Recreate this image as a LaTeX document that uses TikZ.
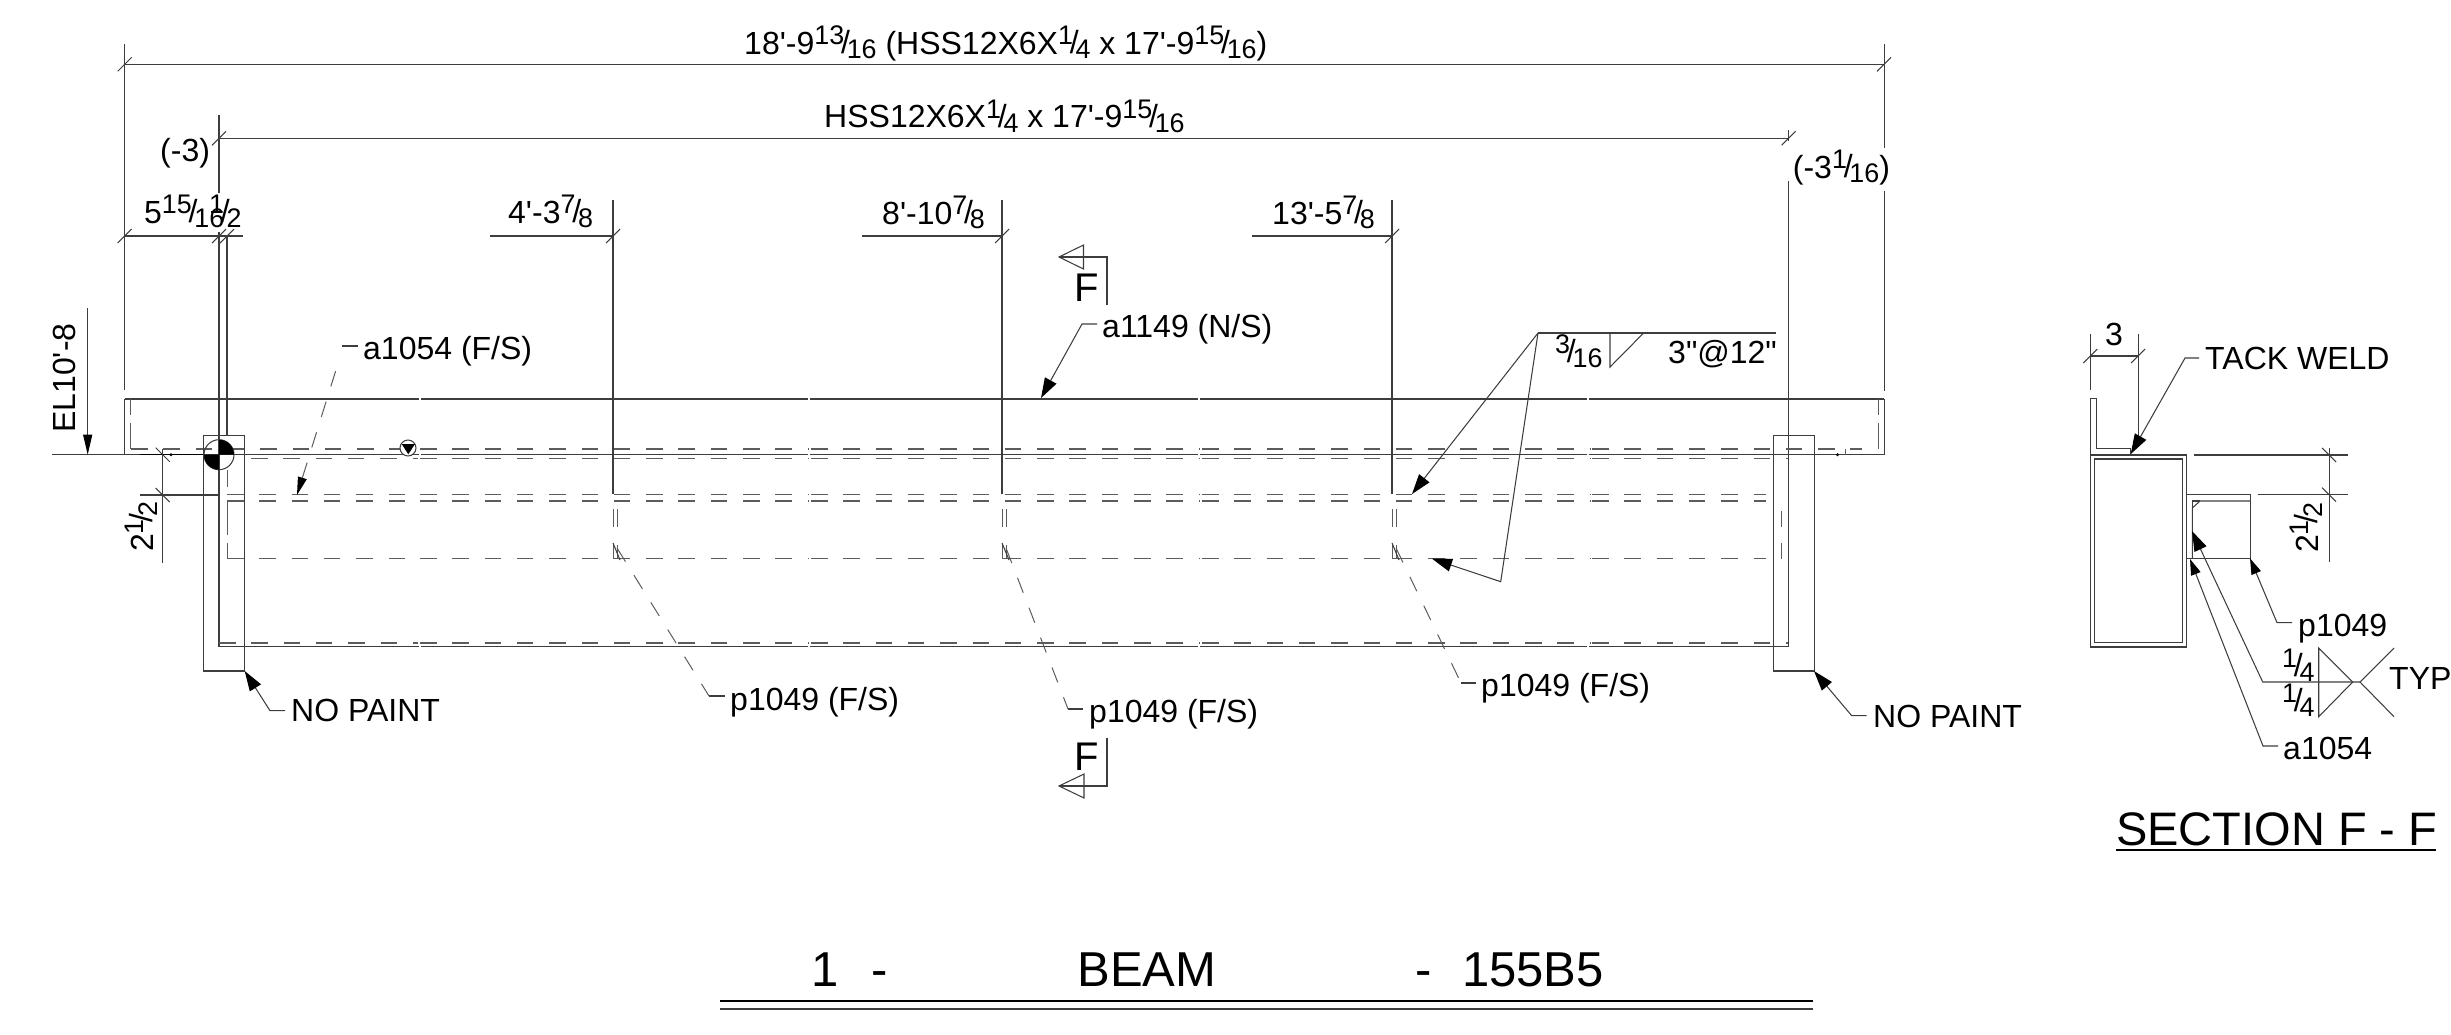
\documentclass[tikz,border=0pt]{standalone}
\usepackage{fontspec}
\usepackage{graphicx}
\setmainfont[Ligatures=TeXOff]{Liberation Sans}
\usetikzlibrary{arrows.meta}
\definecolor{ln}{gray}{0.24}
\definecolor{dl}{gray}{0.36}
\newcommand\frc[2]{\raisebox{.30em}{\scalebox{.84}{#1}}\kern-.10em\raisebox{.02em}{/}\kern-.10em\raisebox{-.14em}{\scalebox{.84}{#2}}}
\tikzset{
  x=1pt,y=-1pt,
  ln/.style={draw=ln,line width=1.05pt},
  dsh/.style={draw=dl,line width=1.2pt,dash pattern=on 16.5pt off 15.8pt},
  thin dash/.style={draw=dl,line width=1pt},
  lead/.style={draw=ln,line width=1.05pt,{Triangle[length=20pt,width=13pt,black]}-},
  leadsmall/.style={draw=ln,line width=1.05pt,{Triangle[length=16pt,width=10pt,black]}-},
  ldash/.style={draw=dl,line width=1pt,dash pattern=on 16pt off 16pt},
  txt/.style={inner sep=0pt,anchor=base west,text=black,font=\fontsize{32}{36}\selectfont},
  big/.style={txt,font=\fontsize{40}{44}\selectfont},
  sect/.style={txt,font=\fontsize{47}{52}\selectfont},
  ttl/.style={inner sep=0pt,anchor=base,text=black,font=\fontsize{49}{54}\selectfont},
  tickf/.style={insert path={+(-7,7) -- +(7,-7)}},
  tickb/.style={insert path={+(-7,-7) -- +(7,7)}},
}
\begin{document}
\begin{tikzpicture}
\useasboundingbox (0,0) rectangle (2451,1034);
% ---- dimension lines
\draw[ln] (124.7,44) -- (124.7,390);
\draw[ln] (1884,44) -- (1884,148) (1884,191) -- (1884,391);
\draw[ln] (219,115) -- (219,193) (219,232) -- (219,646.7);
\draw[ln] (227,236) -- (227,435);
\draw[ln] (1788.6,130) -- (1788.6,141) (1788.6,181) -- (1788.6,646.7);
\draw[ln] (124.7,64.3) -- (1884,64.3);
\draw[ln] (219,138.3) -- (1788.6,138.3);
\draw[ln] (124.7,236) -- (242.7,236);
\draw[ln] (490,236) -- (613,236);
\draw[ln] (862,236) -- (1002,236);
\draw[ln] (1252,236) -- (1392,236);
\foreach \q in {124.7,1884} \draw[ln] (\q,64.3) [tickf];
\foreach \q in {219,1788.6} \draw[ln] (\q,138.3) [tickf];
\foreach \q in {124.7,219,227,613,1002,1392} \draw[ln] (\q,236) [tickf];
\draw[ln] (613,200) -- (613,494);
\draw[ln] (1002,200) -- (1002,494);
\draw[ln] (1392,200) -- (1392,494);
% ---- beam outline
\draw[ln] (124.7,454.7) -- (124.7,399);
\draw[ln] (1884,454.7) -- (1884,399);
\foreach \a/\b in {124.7/419,421/807.5,809.5/1198,1200/1586.5,1588.5/1884}{
  \draw[ln] (\a,399) -- (\b,399);
  \draw[ln] (\a,454.7) -- (\b,454.7);
}
\draw[ln] (52,454.7) -- (124.7,454.7);
\draw[draw=black,line width=1.5pt] (140,454.7) -- (204,454.7);
\foreach \a/\b in {219/419,421/807.5,809.5/1198,1200/1586.5,1588.5/1788.6}
  \draw[ln] (\a,646.7) -- (\b,646.7);
% ---- hidden lines
\foreach \a/\b in {131/418,420/808,811/1199,1202/1590,1592/1862}
  \draw[dsh] (\a,449) -- (\b,449);
\foreach \a/\b in {251/418,420/808,811/1199,1202/1590,1592/1788}
  \draw[dsh] (\a,458.3) -- (\b,458.3);
\foreach \a/\b in {227/418,420/808,811/1199,1202/1590,1592/1766}{
  \draw[dsh] (\a,494.3) -- (\b,494.3);
  \draw[dsh] (\a,501) -- (\b,501);
  \draw[dsh] (\a,558.5) -- (\b,558.5);
}
\foreach \a/\b in {219/418,420/808,811/1199,1202/1590,1592/1788}
  \draw[dsh] (\a,643) -- (\b,643);
\draw[thin dash] (130.7,399) -- (130.7,415) (130.7,423) -- (130.7,449);
\draw[thin dash] (1878,399) -- (1878,415) (1878,423) -- (1878,449);
\draw[thin dash] (227,470) -- (227,487) (227,502) -- (227,535) (227,543) -- (227,558.5);
\draw[thin dash] (1781.4,511) -- (1781.4,527) (1781.4,543) -- (1781.4,558.5);
\draw[thin dash] (1845,449) -- (1845,454.7);
\fill[black] (171,454.7) circle [radius=1.6pt];
\fill[black] (1837.5,454.7) circle [radius=1.6pt];
% ---- stiffeners seen through the beam
\foreach \q in {613,1002,1392}{
  \draw[thin dash] (\q,509) -- (\q,527) (\q+4.2,509) -- (\q+4.2,527);
  \draw[thin dash] (\q,545) -- (\q,558) -- (\q+4.2,558) -- (\q+4.2,545);
  \draw[ln] (\q,543) -- (\q+7,560);
}
% ---- end plates
\draw[ln] (203.7,435.3) rectangle (244.7,671);
\draw[ln] (1773,435.3) rectangle (1814,671);
\draw[ln] (140,495) -- (219,495);
% ---- 2 1/2 dimension at left
\draw[ln] (162.7,449) -- (162.7,562.7);
\draw[ln] (162.7,454.7) [tickb];
\draw[ln] (162.7,495) [tickb];
% ---- elevation
\coordinate (elstart) at (87.7,308);
\coordinate (eltip) at (87.7,454.7);
\draw[ln,-{Triangle[length=20pt,width=9pt,black]}] (elstart) -- (eltip);
% ---- markers
\draw[ln] (219,454.7) circle [radius=15pt];
\fill[black] (219,454.7) -- +(15pt,0pt) arc[start angle=0,end angle=90,radius=15pt] -- cycle;
\fill[black] (219,454.7) -- +(-15pt,0pt) arc[start angle=180,end angle=270,radius=15pt] -- cycle;
\fill[white] (408,448) circle [radius=8pt];
\draw[ln] (408,448) circle [radius=8pt];
\fill[black] (401.7,444) -- (415,444) -- (408.3,454.3) -- cycle;
% ---- section arrows
\draw[ln] (1059,257) -- (1107,257) -- (1107,305);
\draw[ln] (1059,257) -- (1083.5,245) -- (1083.5,269) -- cycle;
\draw[ln] (1107,738) -- (1107,786) -- (1059,786);
\draw[ln] (1059,786) -- (1084,774) -- (1084,798) -- cycle;
% ---- weld symbol on beam
\coordinate (wroot) at (1538,333);
\coordinate (wend) at (1776,333);
\coordinate (wtip1) at (1412,494);
\coordinate (wcorner) at (1500.7,581.7);
\coordinate (wtip2) at (1432,558.7);
\draw[ln] (wroot) -- (wend);
\draw[lead] (wtip1) -- (wroot);
\draw[lead] (wtip2) -- (wcorner) -- (wroot);
\draw[ln] (1610,333) -- (1610,367) -- (1643.6,333);
% ---- labels of plan
\node[txt] (t1) at (744,54) {18'-9\frc{13}{16} (HSS12X6X\frc{1}{4} x 17'-9\frc{15}{16})};
\node[txt] (t2) at (824,127.7) {HSS12X6X\frc{1}{4} x 17'-9\frc{15}{16}};
\node[txt] (t3) at (160,161.7) {(-3)};
\node[txt] (t4) at (1792.7,178) {(-3\frc{1}{16})};
\node[txt] (t5) at (144,223.3) {5\frc{15}{16}};
\node[txt] (t6) at (209,223.3) {\frc{1}{2}};
\node[txt] (t7) at (508,223) {4'-3\frc{7}{8}};
\node[txt] (t8) at (882,224) {8'-10\frc{7}{8}};
\node[txt] (t9) at (1272,224) {13'-5\frc{7}{8}};
\node[big,anchor=base] (fup) at (1087,301.7) {F};
\node[big,anchor=base] (fdn) at (1087,770) {F};
\node[txt] (wsize) at (1555,363) {\frc{3}{16}};
\node[txt] (wpitch) at (1668,363) {3"@12"};
\node[txt,rotate=90] (elev) at (75.7,433) {EL10'-8};
\node[txt,rotate=90] (d212) at (153,552) {2\frc{1}{2}};
% ---- leaders of plan
\node[txt] (a1054) at (363,359) {a1054 (F/S)};
\coordinate (ka1054) at (342,346);
\coordinate (sa1054) at (358,346);
\coordinate (ta1054) at (297,495);
\draw[ln] (ka1054) -- (sa1054);
\draw[ldash,{Triangle[length=18pt,width=9pt,black]}-] (ta1054) -- (340,357);
\node[txt] (a1149) at (1102,337) {a1149 (N/S)};
\coordinate (ta1149) at (1041,398);
\coordinate (ka1149) at (1082,324);
\coordinate (sa1149) at (1097,324);
\draw[lead] (ta1149) -- (ka1149) -- (sa1149);
\node[txt] (np1) at (291,721.7) {NO PAINT};
\coordinate (tn1) at (244.7,671);
\coordinate (kn1) at (270,710.7);
\coordinate (sn1) at (285,710.7);
\draw[lead] (tn1) -- (kn1) -- (sn1);
\node[txt] (np2) at (1873,727) {NO PAINT};
\coordinate (tn2) at (1814,671);
\coordinate (kn2) at (1851.7,715.7);
\coordinate (sn2) at (1866.7,715.7);
\draw[lead] (tn2) -- (kn2) -- (sn2);
\node[txt] (p1) at (730,710.7) {p1049 (F/S)};
\coordinate (kp1) at (709,696);
\coordinate (sp1) at (725,696);
\draw[ldash] (617,548) -- (kp1);
\draw[ln] (kp1) -- (sp1);
\node[txt] (p2) at (1089,722.7) {p1049 (F/S)};
\coordinate (kp2) at (1068,709);
\coordinate (sp2) at (1083,709);
\draw[ldash] (1006,548) -- (kp2);
\draw[ln] (kp2) -- (sp2);
\node[txt] (p3) at (1481,696.7) {p1049 (F/S)};
\coordinate (kp3) at (1461,683);
\coordinate (sp3) at (1476,683);
\draw[ldash] (1396,548) -- (kp3);
\draw[ln] (kp3) -- (sp3);
% ---- section F-F
\draw[ln] (2090.3,455) rectangle (2186.3,647);
\draw[ln] (2094,459) rectangle (2182.3,642.7);
\draw[ln] (2090.3,455) -- (2090.3,398.7) -- (2096,398.7) -- (2096,448.7) -- (2130,448.7) -- (2130,455);
\draw[ln] (2186.3,494.7) -- (2250,494.7) -- (2250,558.3) -- (2186.3,558.3);
\draw[ln] (2192.3,558.3) -- (2192.3,508) -- (2200,501) -- (2250,501);
\draw[ln] (2192.3,501) -- (2192.3,508);
\draw[ln] (2192.3,501) -- (2200,501);
% dim 3
\draw[ln] (2090.3,334) -- (2090.3,390);
\draw[ln] (2138,334) -- (2138,446.7);
\draw[ln] (2090.3,356) -- (2138,356);
\draw[ln] (2090.3,356) [tickf];
\draw[ln] (2138,356) [tickf];
\node[txt,anchor=base] (d3) at (2114,345.7) {3};
% dim 2 1/2
\draw[ln] (2193.7,455) -- (2347.7,455);
\draw[ln] (2257.7,494.7) -- (2347.7,494.7);
\draw[ln] (2329,448) -- (2329,562);
\draw[ln] (2329,455) [tickb];
\draw[ln] (2329,494.7) [tickb];
\node[txt,rotate=90] (s212) at (2318,553) {2\frc{1}{2}};
% tack weld
\node[txt] (tack) at (2205,369.3) {TACK WELD};
\coordinate (tt) at (2130.7,454);
\coordinate (kt) at (2185,358);
\coordinate (st) at (2199,358);
\draw[lead] (tt) -- (kt) -- (st);
% p1049
\node[txt] (sp) at (2298,636) {p1049};
\coordinate (tp) at (2250,558.3);
\coordinate (kp) at (2277,622.7);
\coordinate (sp0) at (2292,622.7);
\draw[leadsmall] (tp) -- (kp) -- (sp0);
% weld symbol
\coordinate (tw1) at (2192,531);
\coordinate (kw1) at (2262.7,682);
\coordinate (wx) at (2360,682);
\draw[lead] (tw1) -- (kw1) -- (wx);
\node[txt] (sa) at (2283,759.3) {a1054};
\coordinate (tw2) at (2190,559);
\coordinate (kw2) at (2263,746);
\coordinate (sw2) at (2278,746);
\draw[leadsmall] (tw2) -- (kw2) -- (sw2);
\draw[ln] (2352.7,682) -- (2318.7,648) -- (2318.7,716.7) -- cycle;
\draw[ln] (2394,648) -- (wx) -- (2394,716.7);
\node[txt] (w1) at (2282,677) {\frc{1}{4}};
\node[txt] (w2) at (2282,711.7) {\frc{1}{4}};
\node[txt] (typ) at (2389,689.3) {TYP};
% section title
\node[sect] (sf) at (2116,845) {SECTION F - F};
\draw[draw=black,line width=1.3pt] (2116,850) -- (2436,850);
% ---- title
\node[ttl] (n1) at (825,986.7) {1};
\node[ttl] (n2) at (880,986.7) {-};
\node[ttl] (n3) at (1147,986.7) {BEAM};
\node[ttl] (n4) at (1424,986.7) {-};
\node[ttl] (n5) at (1533,986.7) {155B5};
\draw[draw=black,line width=1.4pt] (720,1001) -- (1813,1001);
\draw[draw=ln,line width=1.4pt] (720,1009) -- (1813,1009);
\end{tikzpicture}
\end{document}
